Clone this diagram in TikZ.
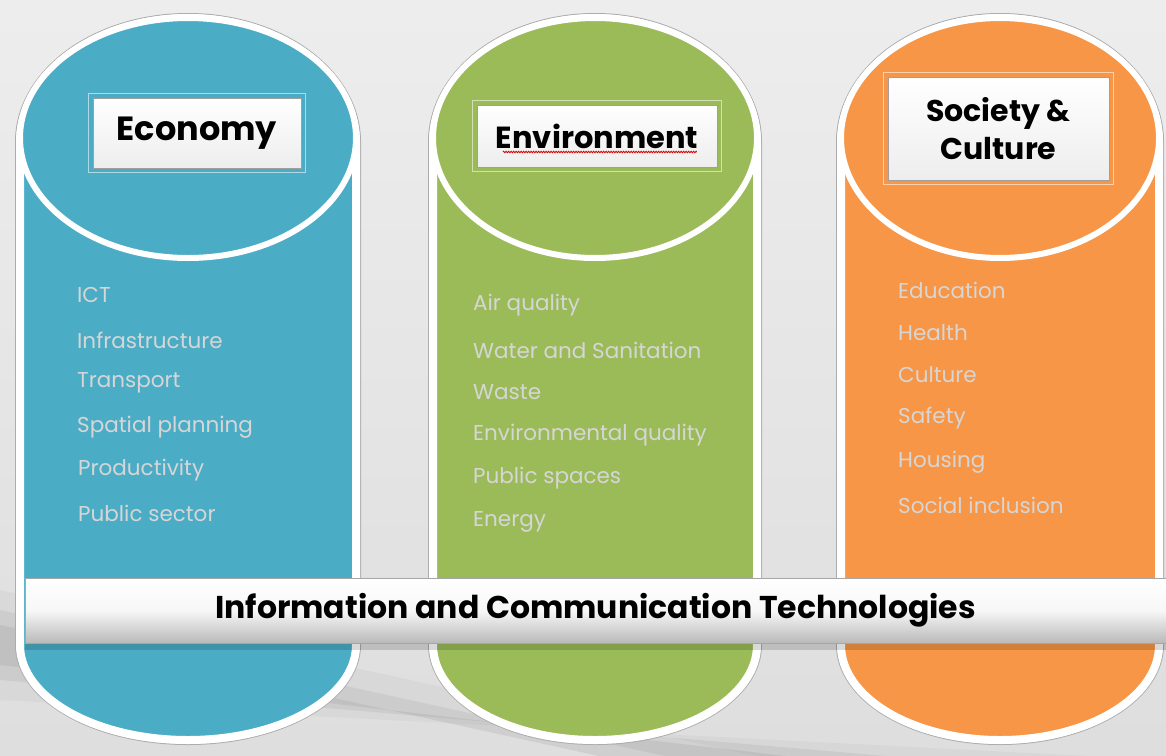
\documentclass[tikz,border=0pt]{standalone}
\usepackage{fontspec}
\setmainfont{Poppins}
\usetikzlibrary{calc,decorations.pathmorphing}
\definecolor{ecoblue}{HTML}{4BACC6}
\definecolor{envgreen}{HTML}{9BBB59}
\definecolor{socorange}{HTML}{F79646}
\definecolor{itemgrey}{HTML}{D6D6D6}
\newcommand{\mypillar}[3]{%
  \begin{scope}[shift={(#1,0)}]
    \pgfmathsetmacro\Rm{#2+4}
    \pgfmathsetmacro\Ro{#2+8.5}
    \draw[gray!65, line width=1pt]
      (-\Ro,142) arc[start angle=180,end angle=0,x radius=\Ro pt,y radius=128.5pt]
      -- (\Ro,645) arc[start angle=0,end angle=-180,x radius=\Ro pt,y radius=99.5pt] -- cycle;
    \draw[white, line width=8pt, fill=#3]
      (-\Rm,142) arc[start angle=180,end angle=0,x radius=\Rm pt,y radius=124pt]
      -- (\Rm,645) arc[start angle=0,end angle=-180,x radius=\Rm pt,y radius=95pt] -- cycle;
    \draw[white, line width=6pt, fill=#3] (0,138) ellipse [x radius=\Rm pt, y radius=120pt];
  \end{scope}}
\tikzset{
  titlebox/.style={draw=gray!75, line width=0.8pt, top color=white, bottom color=gray!14,
    font=\fontsize{32}{38}\selectfont\bfseries, text=black, align=center, inner sep=0pt},
  listitem/.style={anchor=west, text=itemgrey, font=\fontsize{21.5}{24}\selectfont, inner sep=0pt},
  ictbar/.style={draw=gray!70, line width=1pt, top color=white, bottom color=gray!55,
    middle color=gray!6, font=\fontsize{31.5}{36}\selectfont\bfseries, text=black, inner sep=0pt},
}
\begin{document}
\begin{tikzpicture}[x=1pt,y=-1pt]
\useasboundingbox (0,0) rectangle (1166,755);
% background
\shade[top color=gray!14, bottom color=gray!26] (0,0) rectangle (1166,755);
\fill[gray!70, opacity=0.12] (0,590) -- (1166,846) -- (1166,760) -- (0,700) -- cycle;
\fill[gray!80, opacity=0.18] (0,610) -- (1166,866) -- (1166,780) -- (0,680) -- cycle;
\fill[gray!90, opacity=0.18] (0,625) -- (1166,880) -- (1166,800) -- (0,665) -- cycle;
% pillars
\mypillar{188}{164}{ecoblue}
\mypillar{595}{158}{envgreen}
\mypillar{1000}{155}{socorange}
% title boxes
\node[titlebox, minimum width=208pt, minimum height=70pt, font=\fontsize{33.5}{38}\selectfont\bfseries] (econ) at (197,133) {Economy};
\node[titlebox, minimum width=240pt, minimum height=62pt, font=\fontsize{30.5}{36}\selectfont\bfseries] (env) at (597,136) {Environment};
\node[titlebox, minimum width=221pt, minimum height=103pt, font=\fontsize{30}{36}\selectfont\bfseries] (soc) at (998.5,128.5) {Society \&\\[2pt]Culture};
\draw[white!55!ecoblue, line width=1.5pt] ([shift={(-4pt,-4pt)}]econ.south west) rectangle ([shift={(4pt,4pt)}]econ.north east);
\draw[white!55!envgreen, line width=1.5pt] ([shift={(-4pt,-4pt)}]env.south west) rectangle ([shift={(4pt,4pt)}]env.north east);
\draw[white!55!socorange, line width=1.5pt] ([shift={(-4pt,-4pt)}]soc.south west) rectangle ([shift={(4pt,4pt)}]soc.north east);
\coordinate (sqa) at (503,152);
\coordinate (sqb) at (697,152);
\draw[red!85!black, line width=0.8pt, decorate, decoration={zigzag, segment length=2.5pt, amplitude=0.8pt}] (sqa) -- (sqb);
% economy list
\node[listitem] (e1) at (77,295) {ICT};
\node[listitem] (e2) at (77,340) {Infrastructure};
\node[listitem] (e3) at (77,383) {Transport};
\node[listitem] (e4) at (77,427) {Spatial planning};
\node[listitem] (e5) at (78,470) {Productivity};
\node[listitem] (e6) at (78,513) {Public sector};
% environment list
\node[listitem] (v1) at (473,305) {Air quality};
\node[listitem] (v2) at (473,350) {Water and Sanitation};
\node[listitem] (v3) at (473,392) {Waste};
\node[listitem] (v4) at (473,435) {Environmental quality};
\node[listitem] (v5) at (473,478) {Public spaces};
\node[listitem] (v6) at (473,522) {Energy};
% society list
\node[listitem] (s1) at (898,290) {Education};
\node[listitem] (s2) at (898,333) {Health};
\node[listitem] (s3) at (898,375) {Culture};
\node[listitem] (s4) at (898,418) {Safety};
\node[listitem] (s5) at (898,462) {Housing};
\node[listitem] (s6) at (898,505) {Social inclusion};
% ICT bar
\fill[black, opacity=0.15] (25,643) rectangle (1166,650);
\node[ictbar, minimum width=1141pt, minimum height=65pt] (ict) at (595.5,610.5) {Information and Communication Technologies};
\end{tikzpicture}
\end{document}
